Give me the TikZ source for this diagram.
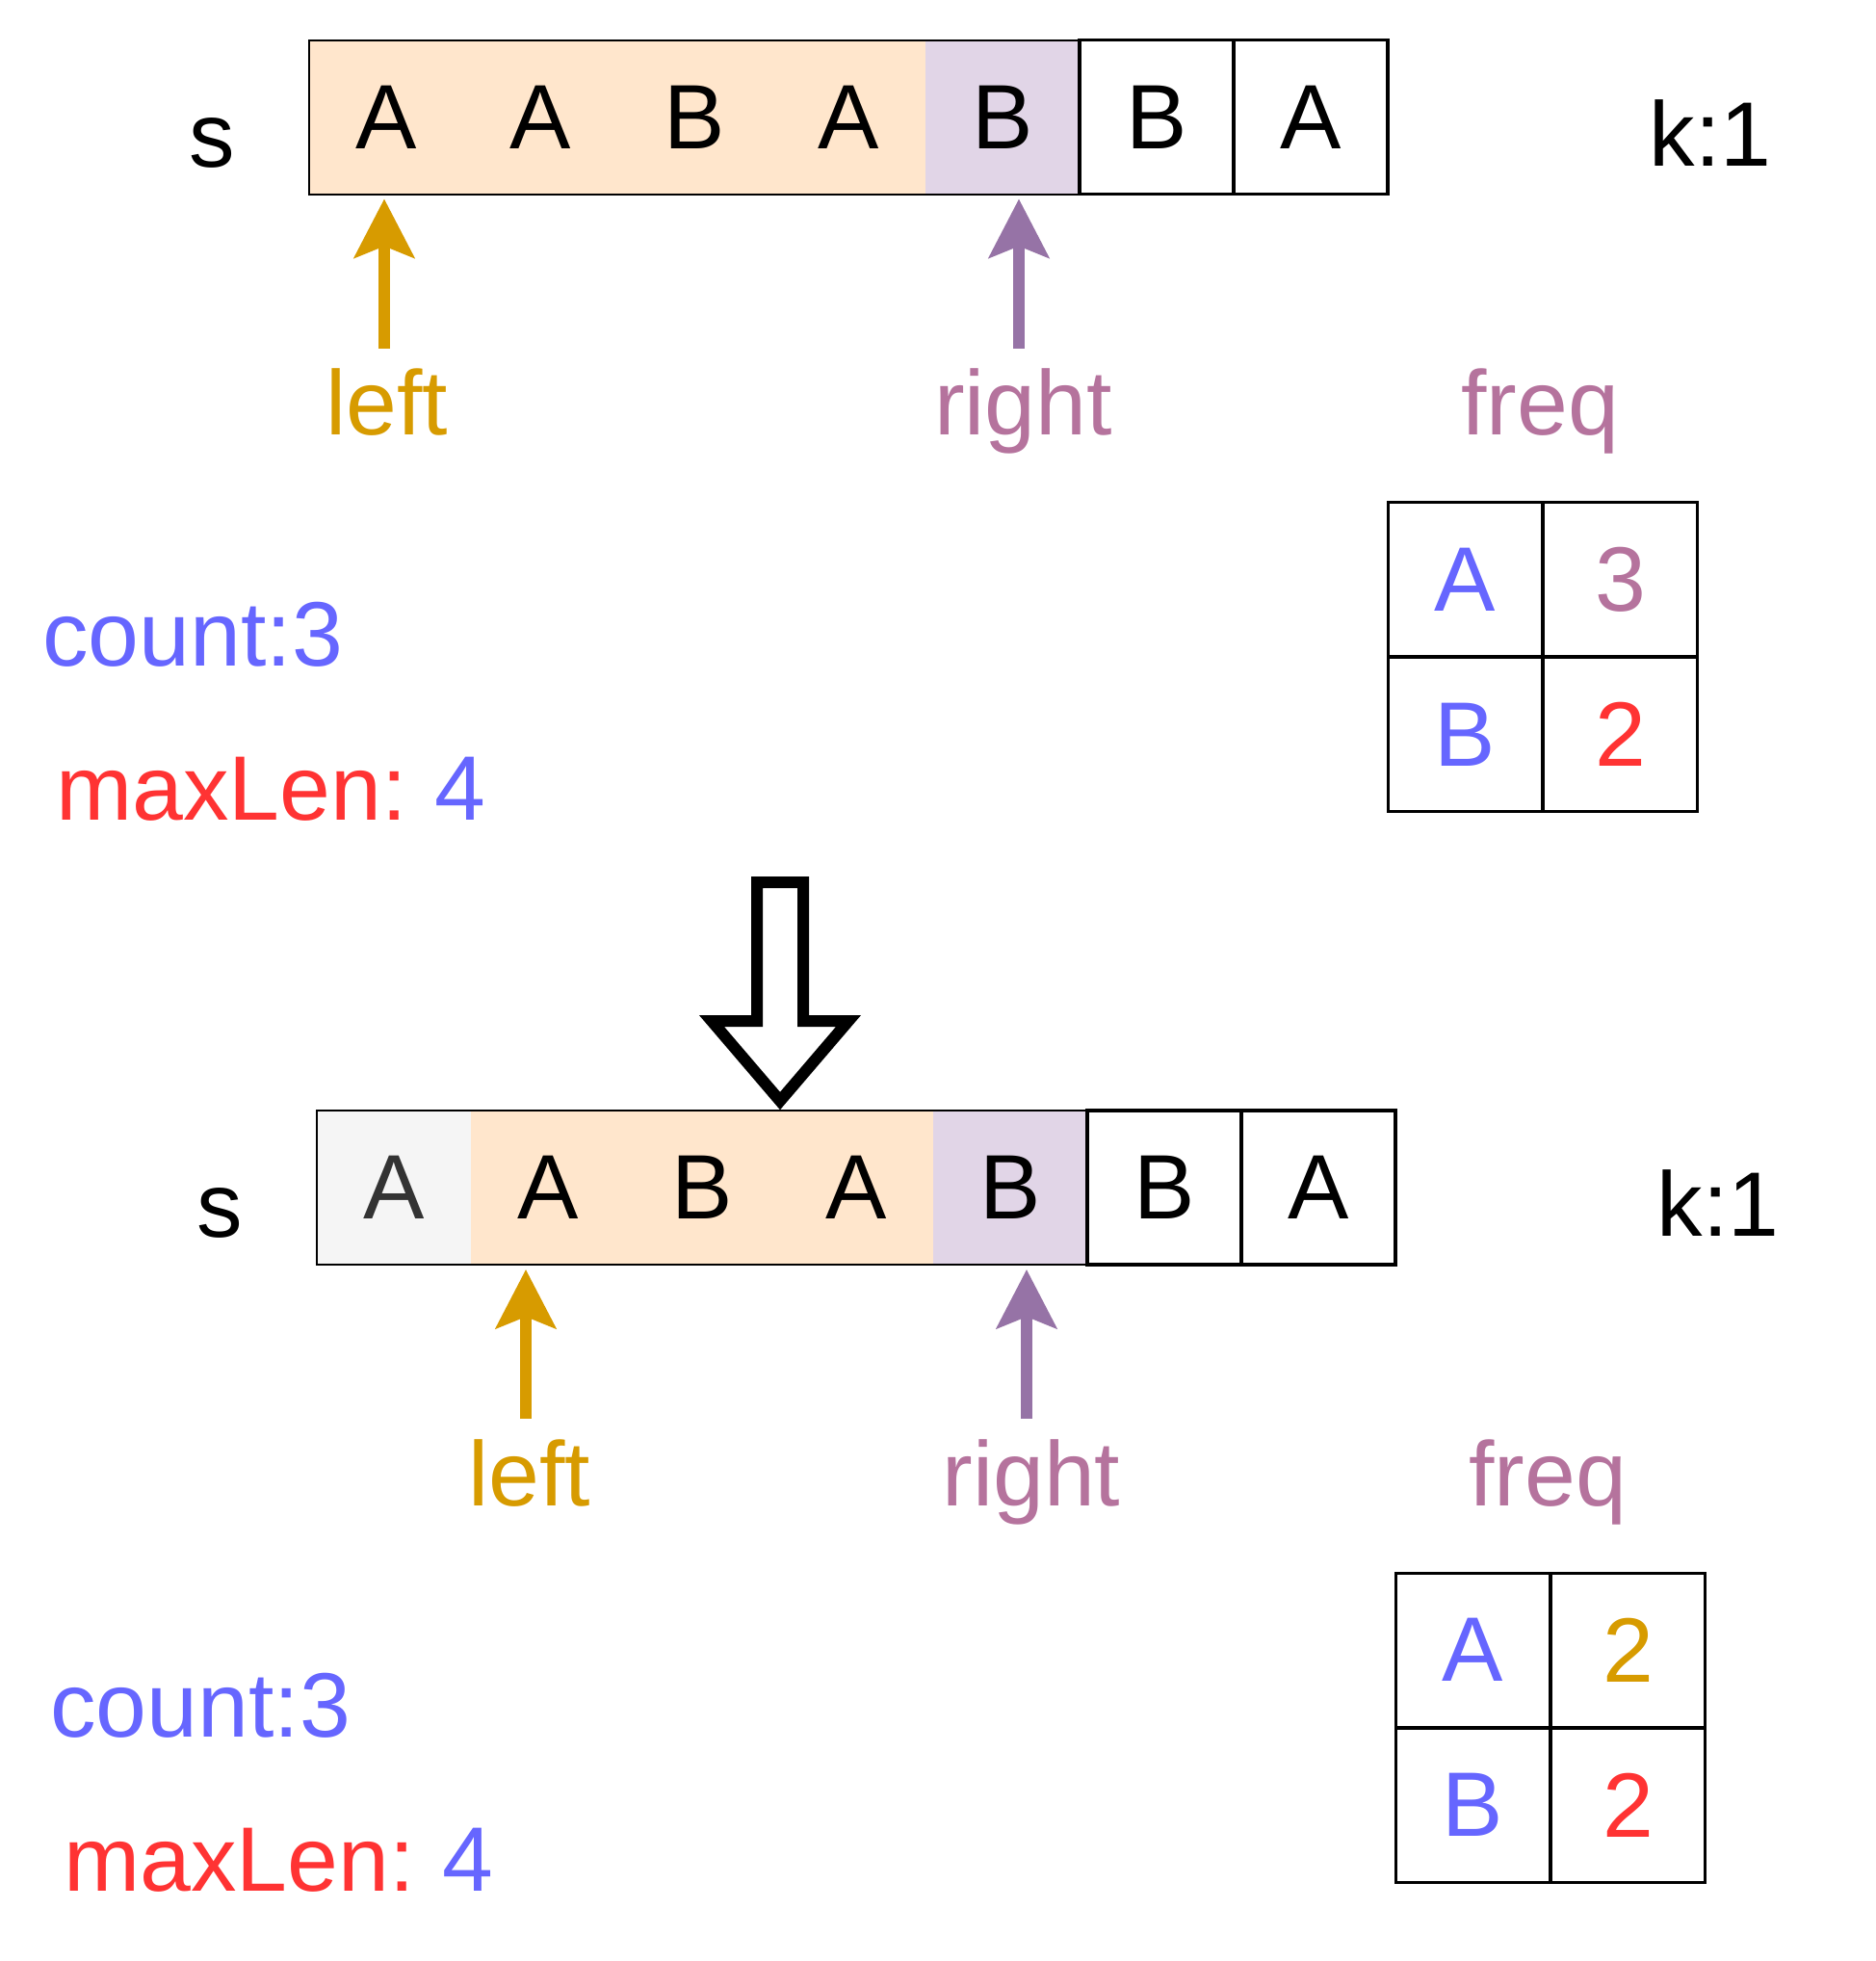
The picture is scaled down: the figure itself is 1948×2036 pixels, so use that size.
\documentclass[tikz,border=0pt]{standalone}
\usepackage{fontspec}
\setmainfont{Liberation Sans}
\usetikzlibrary{calc, positioning, arrows.meta}
\definecolor{winfill}{HTML}{FFE6CC}
\definecolor{curfill}{HTML}{E1D5E7}
\definecolor{oldfill}{HTML}{F5F5F5}
\definecolor{oldtext}{HTML}{333333}
\definecolor{lcol}{HTML}{D79B00}
\definecolor{rcol}{HTML}{9673A6}
\definecolor{rtext}{HTML}{B5739D}
\definecolor{cblue}{HTML}{6666FF}
\definecolor{cred}{HTML}{FF3333}
\tikzset{
  cell/.style={shape=rectangle, minimum height=80pt, minimum width=80pt, inner sep=0pt, outer sep=0pt, font=\fontsize{47.5}{57}\selectfont},
  box/.style={cell, draw=black, line width=1.6pt, fill=white},
  big/.style={inner sep=0pt, anchor=base, font=\fontsize{47.5}{57}\selectfont},
  ptr/.style={line width=5.85pt, -{Stealth[length=30.5pt, width=31pt, inset=6pt]}, shorten >=2.5pt},
}

\begin{document}
\begin{tikzpicture}[x=0.5pt, y=-0.5pt]
\useasboundingbox (0,0) rectangle (1948,2036);
%window before
\node[big] (s1) at (220,173) {s};
\node[cell, fill=winfill] (a0) at (401,121.5) {A};
\node[cell, fill=winfill] (a1) at (561,121.5) {A};
\node[cell, fill=winfill] (a2) at (721,121.5) {B};
\node[cell, fill=winfill] (a3) at (881,121.5) {A};
\node[cell, fill=curfill] (a4) at (1041,121.5) {B};
\draw[line width=1pt] (a0.north west) rectangle (a4.south east);
\node[box] (a5) at (1201,121.5) {B};
\node[box] (a6) at (1361,121.5) {A};
\node[big] (k1) at (1776,172) {k:1};
\node[big, text=lcol] (l1) at (402,451.7) {left};
\node[big, text=rtext] (r1) at (1062.6,451.7) {right};
\node[big, text=rtext] (f1) at (1599,451.7) {freq};
\coordinate (lp1) at (399,361.7);
\coordinate (rp1) at (1058,361.7);
\draw[ptr, lcol] (lp1) -- (lp1 |- a0.south);
\draw[ptr, rcol] (rp1) -- (rp1 |- a4.south);
\node[box, line width=1.5pt, text=cblue] (fa1) at (1521.5,601.5) {A};
\node[box, line width=1.5pt, text=rtext] (fn1) at (1682.5,601.5) {3};
\node[box, line width=1.5pt, text=cblue] (fb1) at (1521.5,762.5) {B};
\node[box, line width=1.5pt, text=cred] (fm1) at (1682.5,762.5) {2};
\node[big, anchor=base west, text=cblue] (c1) at (44,691.7) {count:3};
\node[big, anchor=base west] (m1) at (58,851.7) {\textcolor{cred}{maxLen:}\hspace{0.3em}\textcolor{cblue}{4}};
%shrink step
\draw[line width=6pt, fill=white] (786,916) -- (834,916) -- (834,1060) -- (881,1060) -- (810,1143) -- (739,1060) -- (786,1060) -- cycle;
%window after
\node[big] (s2) at (228,1284.5) {s};
\node[cell, fill=oldfill, text=oldtext] (b0) at (409,1233) {A};
\node[cell, fill=winfill] (b1) at (569,1233) {A};
\node[cell, fill=winfill] (b2) at (729,1233) {B};
\node[cell, fill=winfill] (b3) at (889,1233) {A};
\node[cell, fill=curfill] (b4) at (1049,1233) {B};
\draw[line width=1pt] (b0.north west) rectangle (b4.south east);
\node[box] (b5) at (1209,1233) {B};
\node[box] (b6) at (1369,1233) {A};
\node[big] (k2) at (1784,1283.5) {k:1};
\node[big, text=lcol] (l2) at (550,1563.5) {left};
\node[big, text=rtext] (r2) at (1071,1563.5) {right};
\node[big, text=rtext] (f2) at (1607,1563.5) {freq};
\coordinate (lp2) at (546,1473.2);
\coordinate (rp2) at (1066,1473.2);
\draw[ptr, lcol] (lp2) -- (lp2 |- b1.south);
\draw[ptr, rcol] (rp2) -- (rp2 |- b4.south);
\node[box, line width=1.5pt, text=cblue] (fa2) at (1529.5,1713) {A};
\node[box, line width=1.5pt, text=lcol] (fn2) at (1690.5,1713) {2};
\node[box, line width=1.5pt, text=cblue] (fb2) at (1529.5,1874) {B};
\node[box, line width=1.5pt, text=cred] (fm2) at (1690.5,1874) {2};
\node[big, anchor=base west, text=cblue] (c2) at (52,1803.2) {count:3};
\node[big, anchor=base west] (m2) at (66,1963.2) {\textcolor{cred}{maxLen:}\hspace{0.3em}\textcolor{cblue}{4}};
\end{tikzpicture}
\end{document}
